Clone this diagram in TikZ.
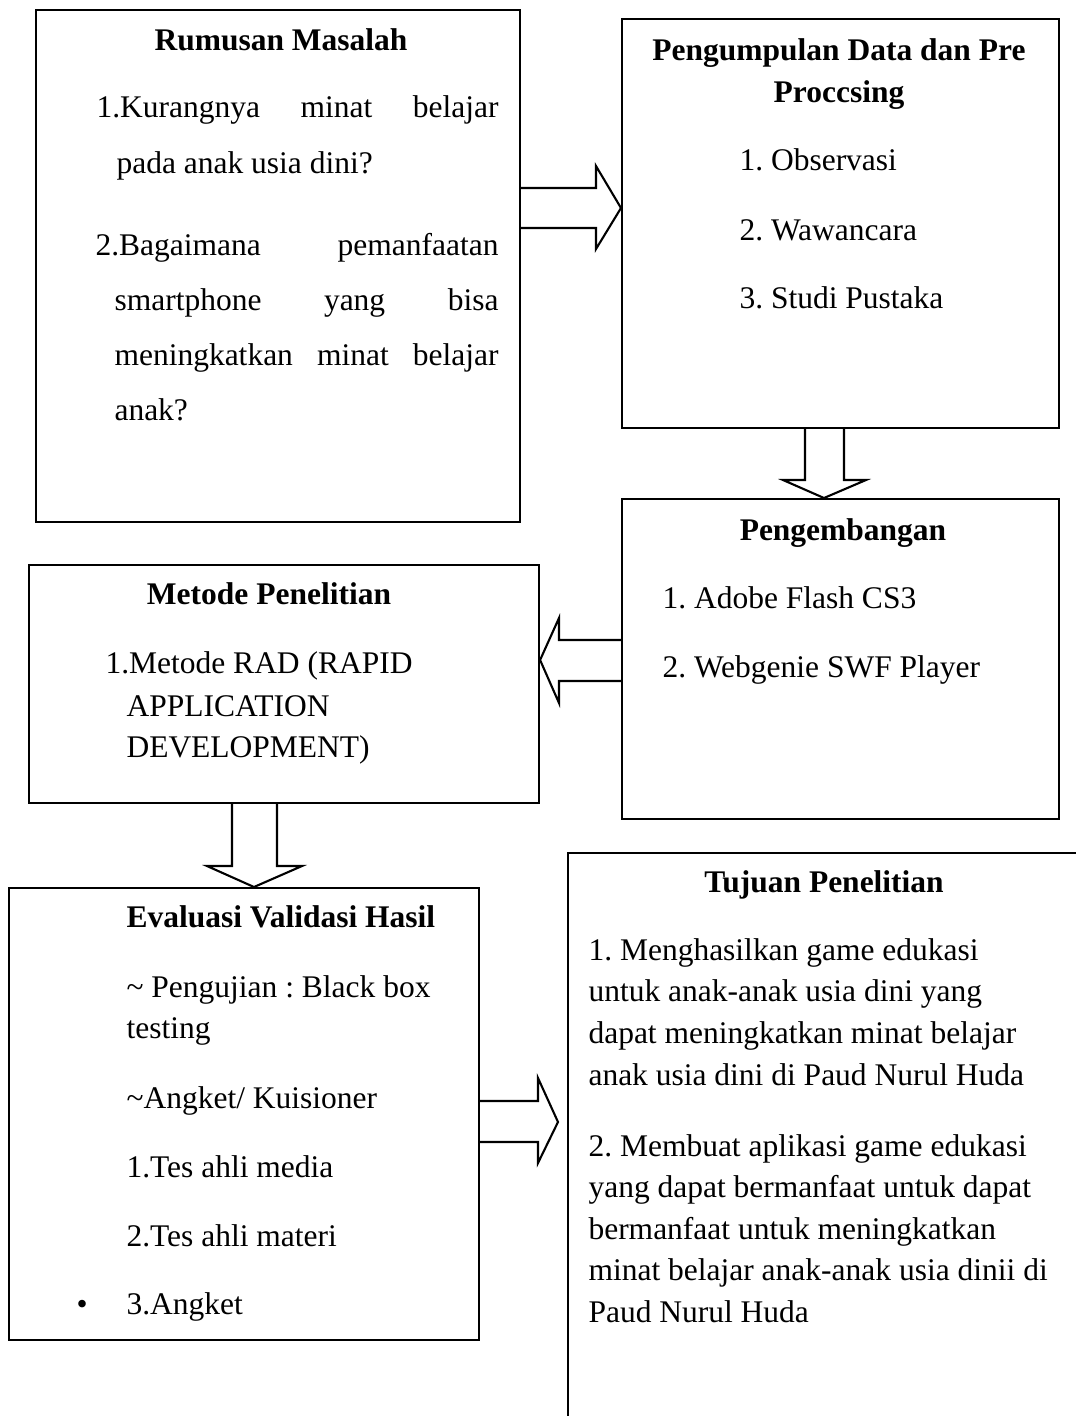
\documentclass[tikz,border=0pt]{standalone}
\usepackage{fontspec}
\setmainfont{Liberation Serif}
\usetikzlibrary{calc}
\frenchspacing

\newlength{\pxl}
\setlength{\pxl}{0.381pt}
\newcommand{\bodyfont}{\fontsize{12}{14}\selectfont}
\newcommand{\jline}[2]{\makebox[#1\pxl][s]{#2}}

\tikzset{
  box/.style={draw, line width=0.8pt, anchor=north west, inner sep=0pt},
  ttl/.style={anchor=base, inner sep=0pt, font=\bodyfont\bfseries},
  txt/.style={anchor=base west, inner sep=0pt, font=\bodyfont},
  fatarrow/.style={draw, line width=0.8pt, line join=miter}
}

\begin{document}
\begin{tikzpicture}[x=0.381pt,y=-0.381pt]
    \useasboundingbox (0,0) rectangle (1076,1416);
    \clip (0,0) rectangle (1076,1416);

    % boxes
    \node[box, minimum width=484\pxl, minimum height=512\pxl] (rumusan) at (35,9) {};
    \node[box, minimum width=437\pxl, minimum height=409\pxl] (pengumpulan) at (621,18) {};
    \node[box, minimum width=437\pxl, minimum height=320\pxl] (pengembangan) at (621,498) {};
    \node[box, minimum width=510\pxl, minimum height=238\pxl] (metode) at (28,564) {};
    \node[box, minimum width=470\pxl, minimum height=452\pxl] (evaluasi) at (8,887) {};
    \node[box, minimum width=600\pxl, minimum height=700\pxl] (tujuan) at (567,852) {};

    % Rumusan Masalah
    \node[ttl] (rt) at (281,50) {Rumusan Masalah};
    \node[txt] (r1) at (96,117) {\jline{402}{1.Kurangnya minat belajar}};
    \node[txt] (r2) at (116,173) {pada anak usia dini?};
    \node[txt] (r3) at (95,255) {\jline{403}{2.Bagaimana pemanfaatan}};
    \node[txt] (r4) at (114,310) {\jline{384}{smartphone yang bisa}};
    \node[txt] (r5) at (114,365) {\jline{384}{meningkatkan minat belajar}};
    \node[txt] (r6) at (114,420) {anak?};

    % Pengumpulan Data
    \node[ttl] (pt1) at (839,60) {Pengumpulan Data dan Pre};
    \node[ttl] (pt2) at (839,102) {Proccsing};
    \node[txt] (p1) at (739,170) {1. Observasi};
    \node[txt] (p2) at (739,240) {2. Wawancara};
    \node[txt] (p3) at (739,308) {3. Studi Pustaka};

    % Pengembangan
    \node[ttl] (gt) at (843,540) {Pengembangan};
    \node[txt] (g1) at (662,608) {1. Adobe Flash CS3};
    \node[txt] (g2) at (662,677) {2. Webgenie SWF Player};

    % Metode Penelitian
    \node[ttl] (mt) at (269,604) {Metode Penelitian};
    \node[txt] (m1) at (105,673) {1.Metode RAD (RAPID};
    \node[txt] (m2) at (126,716) {APPLICATION};
    \node[txt] (m3) at (126,757) {DEVELOPMENT)};

    % Evaluasi Validasi Hasil
    \node[txt, font=\bodyfont\bfseries] (et) at (126,927) {Evaluasi Validasi Hasil};
    \node[txt] (e1) at (126,997) {\textasciitilde{} Pengujian : Black box};
    \node[txt] (e2) at (126,1038) {testing};
    \node[txt] (e3) at (126,1108) {\textasciitilde{}Angket/ Kuisioner};
    \node[txt] (e4) at (126,1177) {1.Tes ahli media};
    \node[txt] (e5) at (126,1246) {2.Tes ahli materi};
    \node[txt] (eb) at (76,1314) {\textbullet};
    \node[txt] (e6) at (126,1314) {3.Angket};

    % Tujuan Penelitian
    \node[ttl] (tt) at (824,892) {Tujuan Penelitian};
    \node[txt] (t1) at (588,960) {1. Menghasilkan game edukasi};
    \node[txt] (t2) at (588,1001.5) {untuk anak-anak usia dini yang};
    \node[txt] (t3) at (588,1043) {dapat meningkatkan minat belajar};
    \node[txt] (t4) at (588,1085) {anak usia dini di Paud Nurul Huda};
    \node[txt] (t5) at (588,1156) {2. Membuat aplikasi game edukasi};
    \node[txt] (t6) at (588,1197.5) {yang dapat bermanfaat untuk dapat};
    \node[txt] (t7) at (588,1239) {bermanfaat untuk meningkatkan};
    \node[txt] (t8) at (588,1280.5) {minat belajar anak-anak usia dinii di};
    \node[txt] (t9) at (588,1322) {Paud Nurul Huda};

    % block arrows
    \draw[fatarrow] (rumusan.east |- 0,188) -- (596,188) -- (596,166) -- (pengumpulan.west |- 0,208)
        -- (596,249) -- (596,228) -- (rumusan.east |- 0,228);
    \draw[fatarrow] (805,0 |- pengumpulan.south) -- (805,480) -- (783,480) -- (824,0 |- pengembangan.north)
        -- (866,480) -- (844,480) -- (844,0 |- pengumpulan.south);
    \draw[fatarrow] (pengembangan.west |- 0,640) -- (559,640) -- (559,618) -- (metode.east |- 0,660)
        -- (559,703) -- (559,681) -- (pengembangan.west |- 0,681);
    \draw[fatarrow] (232,0 |- metode.south) -- (232,866) -- (207,866) -- (254,0 |- evaluasi.north)
        -- (302,866) -- (277,866) -- (277,0 |- metode.south);
    \coordinate (a5tip) at ($(tujuan.west |- 0,1122)+(-9,0)$);
    \draw[fatarrow] (evaluasi.east |- 0,1101) -- (538,1101) -- (538,1078) -- (a5tip)
        -- (538,1163) -- (538,1142) -- (evaluasi.east |- 0,1142);
\end{tikzpicture}
\end{document}
